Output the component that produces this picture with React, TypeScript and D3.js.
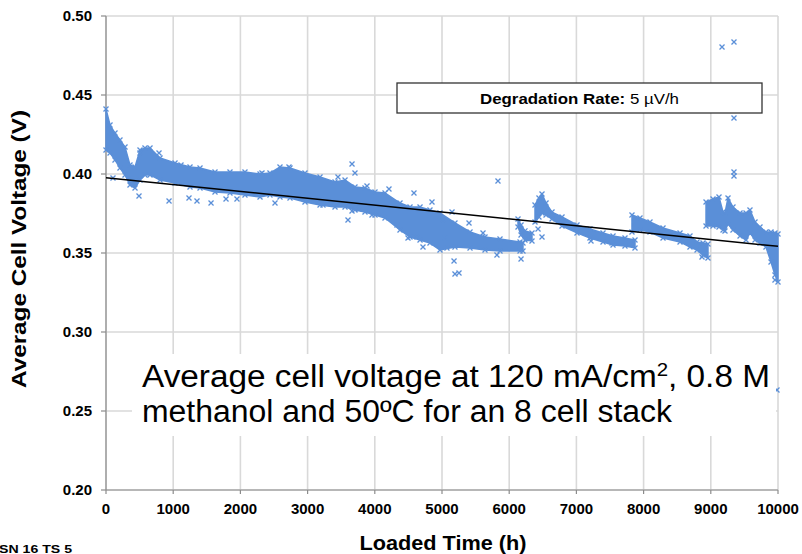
import React from 'react';
import * as d3 from 'd3';

const W = 802;
const H = 554;

const xTicks = [0, 1000, 2000, 3000, 4000, 5000, 6000, 7000, 8000, 9000, 10000];
const yTicks = [0.2, 0.25, 0.3, 0.35, 0.4, 0.45, 0.5];

// Dense bands of points: [hours, upper voltage, lower voltage]
type Env = [number, number, number][];
const segment1: Env = [
  [0, 0.4411, 0.4152], [60, 0.431, 0.4133], [134, 0.4259, 0.4089], [208, 0.4215, 0.4038],
  [283, 0.4171, 0.3994], [357, 0.4057, 0.393], [432, 0.4044, 0.3911], [506, 0.4152, 0.3962],
  [580, 0.4165, 0.3994], [655, 0.4165, 0.3994], [804, 0.4101, 0.3962], [1027, 0.407, 0.3943],
  [1250, 0.4044, 0.3918], [1399, 0.4038, 0.3911], [1622, 0.4013, 0.3886], [1845, 0.4013, 0.388],
  [2068, 0.4013, 0.3867], [2292, 0.4, 0.3854], [2440, 0.4006, 0.3867], [2589, 0.4044, 0.3854],
  [2738, 0.4038, 0.3848], [2961, 0.4006, 0.3823], [3185, 0.3981, 0.3804], [3408, 0.3949, 0.3791],
  [3557, 0.3962, 0.3791], [3705, 0.3918, 0.3772], [3854, 0.3911, 0.3759], [4003, 0.3886, 0.3741],
  [4152, 0.388, 0.3722], [4375, 0.3816, 0.3646], [4524, 0.3791, 0.3601], [4673, 0.3791, 0.3582],
  [4821, 0.3772, 0.3563], [4970, 0.3753, 0.3519], [5193, 0.369, 0.3538], [5417, 0.3633, 0.3532],
  [5640, 0.3601, 0.3519], [5863, 0.3589, 0.3513], [6161, 0.357, 0.3513], [6205, 0.3563, 0.3513],
];
const segment2: Env = [
  [6131, 0.3715, 0.3665], [6176, 0.3677, 0.3614], [6235, 0.364, 0.3582], [6339, 0.3627, 0.3576],
];
const segment3: Env = [
  [6384, 0.3804, 0.3696], [6443, 0.3848, 0.3728], [6488, 0.3873, 0.3753], [6548, 0.3816, 0.3741],
  [6637, 0.3759, 0.3715], [6786, 0.3728, 0.3671], [7009, 0.3677, 0.3627], [7202, 0.3652, 0.3595],
  [7396, 0.3627, 0.357], [7545, 0.3608, 0.3551], [7723, 0.3595, 0.3544], [7872, 0.3582, 0.3532],
];
const segment4: Env = [
  [7827, 0.3741, 0.3633], [7946, 0.3722, 0.3646], [8095, 0.3696, 0.3633], [8289, 0.3658, 0.3595],
  [8542, 0.3627, 0.357], [8690, 0.3608, 0.3538], [8795, 0.357, 0.3519], [8884, 0.3563, 0.3487],
  [8958, 0.3557, 0.3468],
];
const segment5: Env = [
  [8929, 0.3823, 0.3671], [9033, 0.3842, 0.3671], [9122, 0.3854, 0.3665], [9182, 0.3759, 0.3646],
  [9211, 0.3753, 0.3639], [9256, 0.3848, 0.3684], [9330, 0.3791, 0.3646], [9435, 0.3753, 0.3608],
  [9524, 0.3753, 0.3582], [9583, 0.3772, 0.3627], [9658, 0.3696, 0.3582], [9732, 0.3665, 0.3563],
  [9821, 0.3633, 0.3538], [9896, 0.3633, 0.3443], [9955, 0.3627, 0.3361], [10000, 0.362, 0.3316],
];
const segments = [segment1, segment2, segment3, segment4, segment5];

// Scattered individual points: [hours, voltage]
const outliers: [number, number][] = [
  [104, 0.3975], [491, 0.3861], [938, 0.3829], [1235, 0.3848], [1354, 0.3829], [1563, 0.3816],
  [1786, 0.3842], [1949, 0.3842], [2321, 0.4006], [2515, 0.3816], [506, 0.4133], [789, 0.4133],
  [1116, 0.4057], [2723, 0.4044], [3661, 0.4063], [3705, 0.4006], [3452, 0.3981], [3229, 0.3804],
  [3661, 0.3766], [3601, 0.3709], [3765, 0.3778], [3958, 0.3741], [4211, 0.3905], [4583, 0.388],
  [4330, 0.3677], [4494, 0.3595], [4628, 0.3601], [4717, 0.3538], [5015, 0.3709], [5045, 0.3595],
  [4851, 0.3823], [3884, 0.3924], [5833, 0.3956], [5179, 0.3449], [5193, 0.3367], [5253, 0.3373],
  [5074, 0.3532], [5818, 0.3487], [6176, 0.3462], [6488, 0.3601], [6429, 0.3652], [7217, 0.3576],
  [7530, 0.3563], [5610, 0.3627], [5402, 0.369], [5149, 0.3759], [8869, 0.3475], [9955, 0.3329],
  [9167, 0.4804], [9345, 0.4835], [9345, 0.4354], [9345, 0.4013], [9345, 0.3987], [9985, 0.2633],
];

const trendHours = [0, 10000];
const trendVolts = [0.3977, 0.3542];

const BLUE = '#5A8FD8';
const FONT = '"Liberation Sans", Arial, Helvetica, sans-serif';

export default function App() {
  const x = d3.scaleLinear().domain([0, 10000]).range([106, 778]);
  const y = d3.scaleLinear().domain([0.2, 0.5]).range([490, 16]);
  const area = d3
    .area<[number, number, number]>()
    .x((d) => x(d[0]))
    .y0((d) => y(d[2]))
    .y1((d) => y(d[1]));
  const line = d3
    .line<number>()
    .x((d) => x(d))
    .y((_, i) => y(trendVolts[i]));
  const mk = 'M-2.5,-2.5L2.5,2.5M-2.5,2.5L2.5,-2.5';
  const edgePts: [number, number][] = [];
  segments.forEach((s) => s.forEach((d) => { edgePts.push([d[0], d[1]]); edgePts.push([d[0], d[2]]); }));

  return (
    <svg width={W} height={H} style={{ position: 'absolute', left: 0, top: 0, background: '#fff' }} fontFamily={FONT}>
      <rect x={0} y={0} width={W} height={H} fill="#fff" />
      {/* grid */}
      {xTicks.map((t) => (
        <line key={'gx' + t} x1={x(t)} x2={x(t)} y1={y(0.5)} y2={y(0.2)} stroke="#d9d9d9" strokeWidth={1.6} />
      ))}
      {yTicks.map((t) => (
        <line key={'gy' + t} x1={x(0)} x2={x(10000)} y1={y(t)} y2={y(t)} stroke="#d9d9d9" strokeWidth={1.6} />
      ))}
      {/* axes */}
      <line x1={x(0)} x2={x(0)} y1={y(0.5)} y2={y(0.2)} stroke="#8c8c8c" strokeWidth={1.2} />
      <line x1={x(0)} x2={x(10000)} y1={y(0.2)} y2={y(0.2)} stroke="#8c8c8c" strokeWidth={1.2} />
      {yTicks.map((t) => (
        <line key={'ty' + t} x1={x(0) - 5} x2={x(0)} y1={y(t)} y2={y(t)} stroke="#8c8c8c" strokeWidth={1.2} />
      ))}
      {xTicks.map((t) => (
        <line key={'tx' + t} x1={x(t)} x2={x(t)} y1={y(0.2)} y2={y(0.2) + 4} stroke="#8c8c8c" strokeWidth={1.2} />
      ))}
      {yTicks.map((t) => (
        <text key={'ly' + t} x={92} y={y(t) + 5} textAnchor="end" fontSize={15} fontWeight="bold" fill="#000">
          {t.toFixed(2)}
        </text>
      ))}
      {xTicks.map((t) => (
        <text key={'lx' + t} x={x(t)} y={514} textAnchor="middle" fontSize={15} fontWeight="bold" fill="#000">
          {t}
        </text>
      ))}
      {/* data */}
      {segments.map((s, i) => (
        <path key={'seg' + i} d={area(s) || ''} fill={BLUE} stroke={BLUE} strokeWidth={1.5} />
      ))}
      {edgePts.map((p, i) => (
        <path key={'e' + i} d={mk} transform={`translate(${x(p[0])},${y(p[1])})`} stroke={BLUE} strokeWidth={1.3} fill="none" />
      ))}
      {outliers.map((p, i) => (
        <path key={'o' + i} d={mk} transform={`translate(${x(p[0])},${y(p[1])})`} stroke={BLUE} strokeWidth={1.3} fill="none" />
      ))}
      <path d={line(trendHours) || ''} stroke="#000" strokeWidth={1.5} fill="none" />
      {/* degradation box */}
      <rect x={397} y={83} width={365} height={30} fill="#fff" stroke="#333" strokeWidth={1.3} />
      <text x={480} y={104} fontSize={15} fill="#000" textLength={199} lengthAdjust="spacingAndGlyphs">
        <tspan fontWeight="bold">Degradation Rate:</tspan>
        <tspan> 5 µV/h</tspan>
      </text>
      {/* annotation */}
      <rect x={132} y={354} width={644} height={82} fill="#fff" />
      <text x={142} y={387} fontSize={31} fill="#000" textLength={628} lengthAdjust="spacingAndGlyphs">
        Average cell voltage at 120 mA/cm<tspan fontSize={19} dy={-11}>2</tspan>
        <tspan dy={11}>, 0.8 M</tspan>
      </text>
      <text x={142} y={422} fontSize={31} fill="#000" textLength={530} lengthAdjust="spacingAndGlyphs">
        methanol and 50ºC for an 8 cell stack
      </text>
      {/* titles */}
      <text x={443} y={550} textAnchor="middle" fontSize={20} fontWeight="bold" fill="#000" textLength={167} lengthAdjust="spacingAndGlyphs">
        Loaded Time (h)
      </text>
      <text transform="translate(26,249) rotate(-90)" textAnchor="middle" fontSize={20} fontWeight="bold" fill="#000" textLength={278} lengthAdjust="spacingAndGlyphs">
        Average Cell Voltage (V)
      </text>
      <text x={-1} y={553} fontSize={11.5} fontWeight="bold" fill="#000" textLength={73} lengthAdjust="spacingAndGlyphs">
        SN 16 TS 5
      </text>
    </svg>
  );
}
